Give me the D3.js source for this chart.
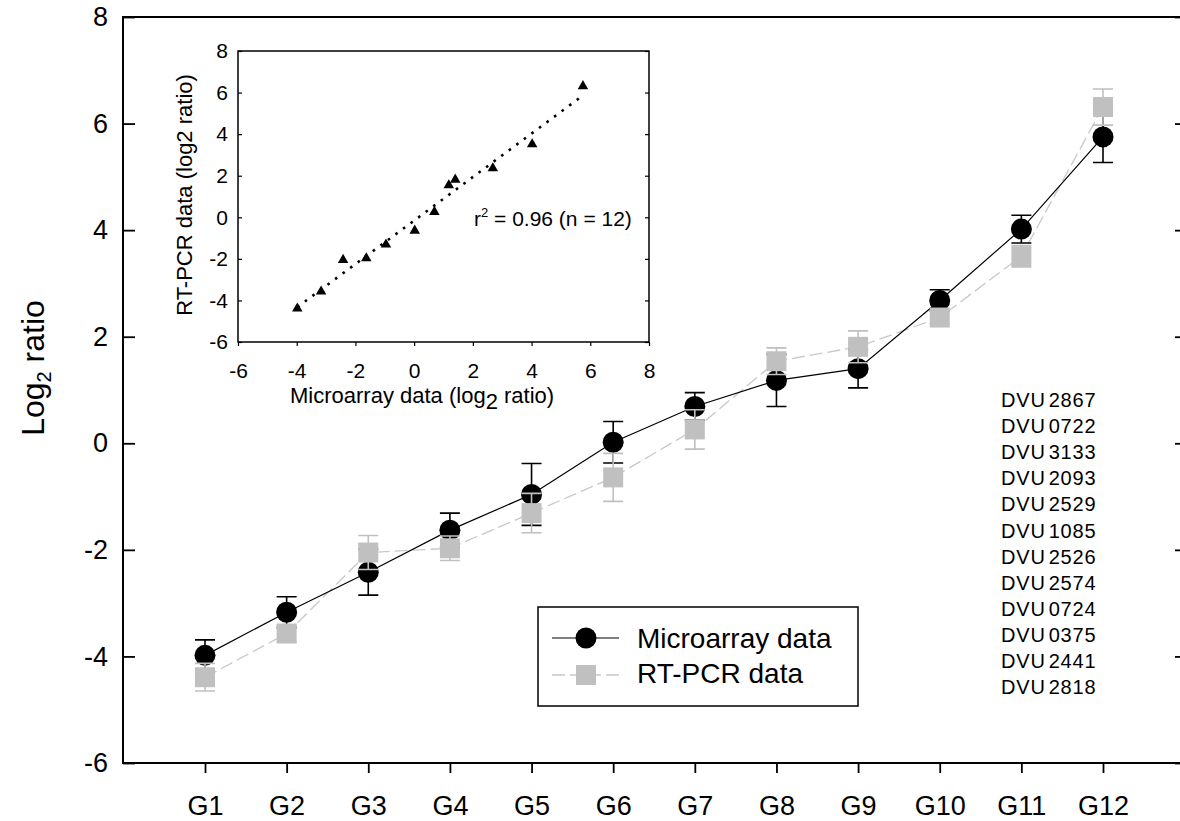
<!DOCTYPE html>
<html>
<head>
<meta charset="utf-8">
<script src="https://cdn.jsdelivr.net/npm/d3@7"></script>
<style>
  body { margin: 0; background: #fff; }
  text { font-family: Arial, "Liberation Sans", sans-serif; fill: #000; }
</style>
</head>
<body>
<svg id="chart"></svg>
<script>
let w = 1180;
let h = 821;

// values
let genes = ["G1", "G2", "G3", "G4", "G5", "G6", "G7", "G8", "G9", "G10", "G11", "G12"];
let microarray = [-3.98, -3.17, -2.42, -1.63, -0.96, 0.02, 0.69, 1.18, 1.40, 2.68, 4.02, 5.75];
let microErr   = [0.29, 0.29, 0.43, 0.32, 0.58, 0.39, 0.26, 0.49, 0.36, 0.20, 0.26, 0.48];
let rtpcr      = [-4.39, -3.57, -2.05, -1.97, -1.31, -0.64, 0.26, 1.54, 1.81, 2.36, 3.51, 6.31];
let rtpcrErr   = [0.26, 0.15, 0.32, 0.23, 0.37, 0.45, 0.37, 0.25, 0.30, 0.12, 0.20, 0.34];
let geneIds = ["2867", "0722", "3133", "2093", "2529", "1085", "2526", "2574", "0724", "0375", "2441", "2818"];
let yTicks = [-6, -4, -2, 0, 2, 4, 6, 8];
let insetTicks = [-6, -4, -2, 0, 2, 4, 6, 8];

let svg = d3.select('#chart').attr('width', w).attr('height', h);
let plain = (d) => String(d);   // keep the hyphen minus like the original

// main scales
let xScale = d3.scalePoint().domain(genes).range([205, 1103]);
let yScale = d3.scaleLinear().domain([-6, 8]).range([763, 17]);

let plotL = 123, plotR = 1185, plotT = 17, plotB = 763;

// ---- main axes (ticks from d3, frame drawn as lines)
let yAxisL = d3.axisLeft(yScale).tickValues(yTicks).tickFormat(plain).tickSize(-12).tickSizeOuter(0).tickPadding(15);
let yAxisR = d3.axisRight(yScale).tickValues(yTicks).tickSize(-10).tickSizeOuter(0).tickFormat('');
let xAxis = d3.axisBottom(xScale).tickSize(10).tickSizeOuter(0).tickPadding(23);

let gL = svg.append('g').attr('transform', `translate(${plotL},0)`).call(yAxisL);
let gR = svg.append('g').attr('transform', `translate(${plotR},0)`).call(yAxisR);
let gX = svg.append('g').attr('transform', `translate(0,${plotB})`).call(xAxis);
[gL, gR, gX].forEach(g => {
  g.select('.domain').remove();
  g.selectAll('.tick line').attr('stroke', '#000').attr('stroke-width', 1.8);
  g.selectAll('text').attr('font-size', 27).attr('font-family', 'Arial, "Liberation Sans", sans-serif');
});

svg.append('path')
  .attr('d', `M${plotR},${plotT}H${plotL}V${plotB}H${plotR}`)
  .attr('fill', 'none').attr('stroke', '#000').attr('stroke-width', 2);

// y title
svg.append('text')
  .attr('transform', `translate(44, 368) rotate(-90)`)
  .attr('text-anchor', 'middle')
  .attr('font-size', 32)
  .call(t => {
    t.append('tspan').text('Log');
    t.append('tspan').attr('font-size', 20).attr('dy', 7).text('2');
    t.append('tspan').attr('dy', -7).text(' ratio');
  });

// ---- series lines
let line = d3.line().x((d, i) => xScale(genes[i])).y(d => yScale(d));

svg.append('path').datum(rtpcr)
  .attr('d', line).attr('fill', 'none')
  .attr('stroke', '#c8c8c8').attr('stroke-width', 1.3).attr('stroke-dasharray', '13,5');

svg.append('path').datum(microarray)
  .attr('d', line).attr('fill', 'none')
  .attr('stroke', '#000').attr('stroke-width', 1.2);

function errorBars(vals, errs, color) {
  let g = svg.append('g').attr('stroke', color).attr('stroke-width', 1.6).attr('fill', 'none');
  vals.forEach((v, i) => {
    let x = xScale(genes[i]);
    let y1 = yScale(v + errs[i]), y0 = yScale(v - errs[i]);
    g.append('path').attr('d', `M${x},${y1}V${y0}M${x - 10},${y1}H${x + 10}M${x - 10},${y0}H${x + 10}`);
  });
}

// microarray: error bars + circles
errorBars(microarray, microErr, '#000');
svg.append('g').selectAll('circle')
  .data(microarray).enter().append('circle')
  .attr('cx', (d, i) => xScale(genes[i]))
  .attr('cy', d => yScale(d))
  .attr('r', 10.5)
  .attr('fill', '#000');

// rt-pcr: error bars + squares
errorBars(rtpcr, rtpcrErr, '#c0c0c0');
svg.append('g').selectAll('rect')
  .data(rtpcr).enter().append('rect')
  .attr('x', (d, i) => xScale(genes[i]) - 10)
  .attr('y', d => yScale(d) - 10)
  .attr('width', 20).attr('height', 20)
  .attr('fill', '#c0c0c0');

// ---- legend
let lg = svg.append('g');
lg.append('rect').attr('x', 538).attr('y', 607).attr('width', 320).attr('height', 99)
  .attr('fill', '#fff').attr('stroke', '#000').attr('stroke-width', 1.5);
lg.append('line').attr('x1', 552).attr('x2', 619).attr('y1', 638).attr('y2', 638)
  .attr('stroke', '#000').attr('stroke-width', 1.2);
lg.append('circle').attr('cx', 586).attr('cy', 638).attr('r', 10.5).attr('fill', '#000');
lg.append('line').attr('x1', 552).attr('x2', 619).attr('y1', 675).attr('y2', 675)
  .attr('stroke', '#c8c8c8').attr('stroke-width', 1.3).attr('stroke-dasharray', '13,5');
lg.append('rect').attr('x', 576).attr('y', 665).attr('width', 20).attr('height', 20).attr('fill', '#c0c0c0');
lg.append('text').attr('x', 637).attr('y', 648).attr('font-size', 28).text('Microarray data');
lg.append('text').attr('x', 637).attr('y', 683).attr('font-size', 28).text('RT-PCR data');

// ---- gene id list
svg.append('g').selectAll('text')
  .data(geneIds).enter().append('text')
  .attr('x', 1001)
  .attr('y', (d, i) => 407 + i * 26.1)
  .attr('font-size', 20)
  .attr('letter-spacing', 0.8)
  .call(t => {
    t.append('tspan').text('DVU');
    t.append('tspan').attr('dx', 3).text(d => d);
  });

// ---- inset scatter
let ix = d3.scaleLinear().domain([-6, 8]).range([238, 649]);
let iy = d3.scaleLinear().domain([-6, 8]).range([342, 51]);

let inset = svg.append('g');
inset.append('rect').attr('x', 238).attr('y', 51).attr('width', 411).attr('height', 291)
  .attr('fill', '#fff').attr('stroke', '#000').attr('stroke-width', 1.5);

let iaL = d3.axisLeft(iy).tickValues(insetTicks).tickFormat(plain).tickSize(-4).tickSizeOuter(0).tickPadding(10);
let iaR = d3.axisRight(iy).tickValues(insetTicks).tickSize(-4).tickSizeOuter(0).tickFormat('');
let iaB = d3.axisBottom(ix).tickValues(insetTicks).tickFormat(plain).tickSize(4).tickSizeOuter(0).tickPadding(17);
let giL = inset.append('g').attr('transform', 'translate(238,0)').call(iaL);
let giR = inset.append('g').attr('transform', 'translate(649,0)').call(iaR);
let giB = inset.append('g').attr('transform', 'translate(0,342)').call(iaB);
[giL, giR, giB].forEach(g => {
  g.select('.domain').remove();
  g.selectAll('.tick line').attr('stroke', '#000').attr('stroke-width', 1.2);
  g.selectAll('text').attr('font-size', 21).attr('font-family', 'Arial, "Liberation Sans", sans-serif');
});

// least squares fit line, dotted
let mx = d3.mean(microarray), my = d3.mean(rtpcr);
let sxy = d3.sum(microarray, (d, i) => (d - mx) * (rtpcr[i] - my));
let sxx = d3.sum(microarray, d => (d - mx) * (d - mx));
let slope = sxy / sxx, icpt = my - slope * mx;
let xr = d3.extent(microarray);
inset.append('line')
  .attr('x1', ix(xr[0])).attr('y1', iy(icpt + slope * xr[0]))
  .attr('x2', ix(xr[1])).attr('y2', iy(icpt + slope * xr[1]))
  .attr('stroke', '#000').attr('stroke-width', 2.6).attr('stroke-dasharray', '2.6,6.8');

inset.append('g').selectAll('path')
  .data(microarray).enter().append('path')
  .attr('d', d3.symbol().type(d3.symbolTriangle).size(48))
  .attr('transform', (d, i) => `translate(${ix(d)},${iy(rtpcr[i])})`)
  .attr('fill', '#000');

inset.append('text').attr('x', 474).attr('y', 226).attr('font-size', 21)
  .call(t => {
    t.append('tspan').text('r');
    t.append('tspan').attr('font-size', 13).attr('dy', -9).text('2');
    t.append('tspan').attr('dy', 9).text(' = 0.96 (n = 12)');
  });

inset.append('text').attr('x', 290).attr('y', 403).attr('font-size', 22)
  .call(t => {
    t.append('tspan').text('Microarray data (log');
    t.append('tspan').attr('dy', 6).text('2');
    t.append('tspan').attr('dy', -6).text(' ratio)');
  });

inset.append('text')
  .attr('transform', 'translate(192,195) rotate(-90)')
  .attr('text-anchor', 'middle')
  .attr('font-size', 22)
  .text('RT-PCR data (log2 ratio)');
</script>
</body>
</html>
